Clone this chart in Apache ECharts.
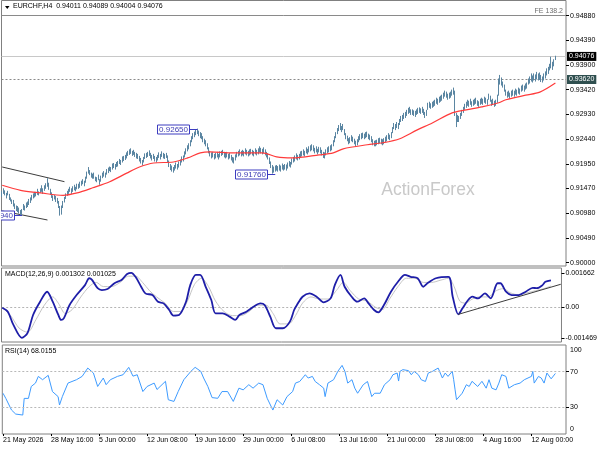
<!DOCTYPE html>
<html><head><meta charset="utf-8">
<script src="https://cdn.jsdelivr.net/npm/echarts@6/dist/echarts.min.js"></script>
<style>html,body{margin:0;padding:0;background:#fff}#c{width:600px;height:450px}</style>
</head><body><div id="c"></div><script>
// ---------- DATA ----------
const symbolTitle = 'EURCHF,H4  0.94011 0.94089 0.94004 0.94076';
const macdTitle = 'MACD(12,26,9) 0.001302 0.001025';
const rsiTitle = 'RSI(14) 68.0155';

const highs = [
0.9141,0.9147,0.9143,0.9138,0.9142,0.9136,0.9129,0.9125,0.9124,0.9117,
0.9113,0.9112,0.9109,0.9104,0.9106,0.9116,0.9113,0.9119,0.9121,0.9126,
0.9129,0.9134,0.9137,0.9140,0.9140,0.9146,0.9141,0.9147,0.9153,0.9147,
0.9153,0.9157,0.9167,0.9158,0.9146,0.9139,0.9133,0.9134,0.9132,0.9128,
0.9122,0.9112,0.9113,0.9122,0.9130,0.9137,0.9142,0.9146,0.9150,0.9147,
0.9151,0.9154,0.9150,0.9156,0.9156,0.9160,0.9162,0.9165,0.9162,0.9170,
0.9180,0.9189,0.9183,0.9178,0.9176,0.9178,0.9170,0.9169,0.9174,0.9165,
0.9172,0.9178,0.9181,0.9178,0.9185,0.9188,0.9190,0.9189,0.9196,0.9197,
0.9195,0.9199,0.9201,0.9205,0.9203,0.9210,0.9211,0.9213,0.9218,0.9221,
0.9224,0.9226,0.9221,0.9223,0.9219,0.9217,0.9215,0.9211,0.9207,0.9203,
0.9209,0.9216,0.9217,0.9219,0.9222,0.9217,0.9213,0.9215,0.9211,0.9209,
0.9213,0.9218,0.9215,0.9220,0.9217,0.9215,0.9217,0.9212,0.9202,0.9195,
0.9192,0.9189,0.9193,0.9198,0.9195,0.9200,0.9204,0.9210,0.9212,0.9220,
0.9226,0.9232,0.9236,0.9242,0.9250,0.9256,0.9259,0.9263,0.9265,0.9261,
0.9258,0.9256,0.9250,0.9245,0.9242,0.9236,0.9228,0.9221,0.9218,0.9219,
0.9215,0.9217,0.9219,0.9215,0.9220,0.9221,0.9223,0.9219,0.9217,0.9219,
0.9215,0.9217,0.9213,0.9209,0.9208,0.9214,0.9219,0.9221,0.9224,0.9221,
0.9223,0.9221,0.9226,0.9223,0.9221,0.9224,0.9225,0.9223,0.9221,0.9226,
0.9223,0.9226,0.9230,0.9227,0.9225,0.9228,0.9224,0.9219,0.9216,0.9208,
0.9200,0.9193,0.9190,0.9192,0.9193,0.9191,0.9194,0.9192,0.9196,0.9193,
0.9195,0.9194,0.9198,0.9201,0.9199,0.9206,0.9209,0.9212,0.9216,0.9213,
0.9215,0.9220,0.9221,0.9224,0.9221,0.9228,0.9225,0.9230,0.9232,0.9234,
0.9232,0.9227,0.9230,0.9225,0.9229,0.9228,0.9223,0.9219,0.9218,0.9224,
0.9228,0.9230,0.9232,0.9234,0.9242,0.9250,0.9258,0.9266,0.9272,0.9276,
0.9270,0.9274,0.9264,0.9256,0.9251,0.9246,0.9248,0.9252,0.9249,0.9245,
0.9241,0.9244,0.9250,0.9254,0.9256,0.9257,0.9255,0.9258,0.9259,0.9255,
0.9253,0.9250,0.9244,0.9241,0.9242,0.9243,0.9246,0.9247,0.9245,0.9244,
0.9246,0.9249,0.9252,0.9256,0.9253,0.9258,0.9268,0.9276,0.9274,0.9278,
0.9276,0.9284,0.9290,0.9292,0.9296,0.9298,0.9302,0.9306,0.9308,0.9303,
0.9303,0.9301,0.9300,0.9303,0.9306,0.9307,0.9305,0.9308,0.9304,0.9298,
0.9302,0.9316,0.9318,0.9315,0.9318,0.9320,0.9322,0.9326,0.9324,0.9328,
0.9330,0.9332,0.9336,0.9340,0.9338,0.9334,0.9336,0.9338,0.9342,0.9346,
0.9340,0.9296,0.9292,0.9290,0.9296,0.9302,0.9308,0.9314,0.9318,0.9322,
0.9320,0.9324,0.9319,0.9322,0.9324,0.9326,0.9321,0.9319,0.9324,0.9326,
0.9324,0.9328,0.9326,0.9323,0.9334,0.9330,0.9322,0.9324,0.9320,0.9322,
0.9332,0.9364,0.9371,0.9366,0.9358,0.9352,0.9342,0.9338,0.9340,0.9336,
0.9340,0.9342,0.9340,0.9344,0.9342,0.9346,0.9344,0.9350,0.9352,0.9350,
0.9354,0.9356,0.9364,0.9368,0.9374,0.9370,0.9374,0.9372,0.9377,0.9374,
0.9376,0.9371,0.9368,0.9374,0.9378,0.9384,0.9387,0.9393,0.9407,0.9397,
0.9402,0.94089];

const lows = [
0.9130,0.9136,0.9133,0.9127,0.9133,0.9124,0.9121,0.9116,0.9111,0.9106,
0.9102,0.9100,0.9097,0.9094,0.9094,0.9104,0.9103,0.9108,0.9110,0.9114,
0.9118,0.9123,0.9127,0.9129,0.9131,0.9134,0.9133,0.9138,0.9140,0.9136,
0.9142,0.9146,0.9150,0.9144,0.9134,0.9128,0.9122,0.9125,0.9120,0.9117,
0.9108,0.9093,0.9095,0.9108,0.9119,0.9126,0.9132,0.9136,0.9140,0.9136,
0.9140,0.9143,0.9141,0.9145,0.9146,0.9148,0.9152,0.9155,0.9151,0.9158,
0.9166,0.9176,0.9173,0.9168,0.9166,0.9166,0.9161,0.9159,0.9163,0.9154,
0.9160,0.9167,0.9170,0.9168,0.9174,0.9177,0.9181,0.9179,0.9184,0.9187,
0.9184,0.9189,0.9190,0.9195,0.9193,0.9198,0.9201,0.9203,0.9206,0.9211,
0.9213,0.9215,0.9211,0.9213,0.9209,0.9206,0.9205,0.9200,0.9196,0.9192,
0.9198,0.9205,0.9207,0.9209,0.9211,0.9206,0.9202,0.9205,0.9200,0.9198,
0.9202,0.9207,0.9204,0.9209,0.9206,0.9205,0.9207,0.9199,0.9189,0.9183,
0.9180,0.9178,0.9182,0.9186,0.9184,0.9188,0.9192,0.9198,0.9200,0.9208,
0.9214,0.9220,0.9224,0.9230,0.9238,0.9244,0.9248,0.9252,0.9254,0.9250,
0.9246,0.9244,0.9238,0.9234,0.9230,0.9224,0.9216,0.9210,0.9206,0.9208,
0.9204,0.9206,0.9208,0.9204,0.9208,0.9211,0.9213,0.9208,0.9206,0.9208,
0.9204,0.9206,0.9202,0.9198,0.9196,0.9202,0.9208,0.9210,0.9212,0.9210,
0.9212,0.9210,0.9214,0.9212,0.9210,0.9212,0.9214,0.9212,0.9210,0.9214,
0.9212,0.9214,0.9218,0.9216,0.9214,0.9216,0.9212,0.9208,0.9204,0.9195,
0.9187,0.9176,0.9178,0.9180,0.9182,0.9180,0.9182,0.9180,0.9184,0.9182,
0.9184,0.9182,0.9186,0.9190,0.9188,0.9194,0.9198,0.9200,0.9204,0.9202,
0.9204,0.9208,0.9210,0.9212,0.9210,0.9216,0.9214,0.9218,0.9220,0.9222,
0.9220,0.9216,0.9218,0.9214,0.9218,0.9216,0.9212,0.9207,0.9206,0.9212,
0.9216,0.9218,0.9220,0.9222,0.9230,0.9238,0.9246,0.9254,0.9260,0.9262,
0.9258,0.9262,0.9252,0.9244,0.9240,0.9234,0.9236,0.9240,0.9238,0.9234,
0.9230,0.9232,0.9238,0.9242,0.9244,0.9246,0.9244,0.9246,0.9248,0.9244,
0.9242,0.9238,0.9232,0.9230,0.9230,0.9232,0.9234,0.9236,0.9234,0.9232,
0.9234,0.9238,0.9240,0.9244,0.9242,0.9246,0.9256,0.9264,0.9262,0.9266,
0.9264,0.9272,0.9278,0.9280,0.9284,0.9286,0.9290,0.9294,0.9296,0.9292,
0.9292,0.9290,0.9288,0.9292,0.9294,0.9296,0.9294,0.9296,0.9292,0.9286,
0.9290,0.9302,0.9306,0.9304,0.9306,0.9308,0.9310,0.9314,0.9312,0.9316,
0.9318,0.9320,0.9324,0.9328,0.9326,0.9322,0.9324,0.9326,0.9330,0.9332,
0.9290,0.9268,0.9278,0.9278,0.9284,0.9290,0.9296,0.9302,0.9306,0.9310,
0.9308,0.9312,0.9308,0.9310,0.9312,0.9314,0.9310,0.9308,0.9312,0.9314,
0.9312,0.9316,0.9314,0.9312,0.9322,0.9318,0.9310,0.9312,0.9308,0.9310,
0.9316,0.9330,0.9352,0.9350,0.9346,0.9338,0.9330,0.9326,0.9328,0.9324,
0.9328,0.9330,0.9328,0.9332,0.9330,0.9334,0.9332,0.9338,0.9340,0.9338,
0.9342,0.9344,0.9352,0.9354,0.9358,0.9356,0.9360,0.9358,0.9362,0.9360,
0.9361,0.9357,0.9356,0.9360,0.9364,0.9370,0.9373,0.9380,0.9384,0.9381,
0.9388,0.94004];

// moving average (red) : [bar index, price]
const maPoints = [[0,0.9153],[13,0.9143],[27,0.9138],[43,0.9133],[53,0.9138],[64,0.9148],[76,0.9160],[88,0.9177],[97,0.9189],[107,0.9197],[121,0.9199],[131,0.9207],[140,0.9217],[147,0.9219],[163,0.9217],[184,0.9217],[194,0.9209],[205,0.9207],[224,0.9213],[234,0.9217],[241,0.9225],[258,0.9233],[269,0.9237],[281,0.9245],[293,0.9262],[304,0.9276],[318,0.9296],[328,0.9302],[339,0.9308],[351,0.9316],[356,0.9322],[370,0.9331],[380,0.9337],[391,0.9355]];

// MACD main line and signal line : [bar index, value]
const macdPoints = [[0,-0.00002],[4,-0.00021],[8,-0.00085],[14,-0.00147],[18,-0.00124],[22,-0.00037],[27,0.00027],[32,0.00075],[36,0.00027],[40,-0.00037],[42,-0.00061],[44,-0.00052],[48,0.00011],[53,0.00059],[59,0.00107],[62,0.0014],[64,0.00132],[68,0.00092],[71,0.00083],[75,0.00088],[80,0.00116],[85,0.00132],[89,0.00160],[92,0.001662],[95,0.00147],[99,0.00099],[102,0.00067],[107,0.00059],[111,0.00027],[115,0.00019],[119,-0.00013],[122,-0.0004],[126,-0.00037],[131,0.00027],[134,0.00107],[138,0.00156],[141,0.00156],[145,0.00099],[149,0.00035],[152,-0.00029],[157,-0.00029],[162,-0.00045],[166,-0.00061],[169,-0.00037],[174,-0.00021],[179,0.00003],[184,0.00019],[187,0.00011],[191,-0.00045],[195,-0.00101],[200,-0.00101],[205,-0.00069],[208,-0.00013],[210,0.00011],[214,0.00051],[219,0.00067],[224,0.00051],[229,0.00024],[234,0.00043],[237,0.00107],[241,0.00156],[244,0.00099],[249,0.00051],[253,0.00027],[258,0.00043],[261,0.00019],[265,-0.00013],[268,-0.00024],[272,0.00011],[277,0.00075],[282,0.00123],[287,0.00156],[291,0.00147],[296,0.0014],[300,0.00099],[303,0.00116],[309,0.0014],[318,0.00147],[321,0.00051],[325,-0.00034],[328,-0.00005],[332,0.00035],[335,0.00051],[339,0.00043],[344,0.00067],[348,0.00043],[353,0.00116],[355,0.00116],[359,0.00075],[363,0.00059],[368,0.00059],[373,0.00075],[378,0.00094],[381,0.00092],[385,0.00107],[387,0.00123],[391,0.001302]];
const signalPoints = [[0,0.0000],[6,-0.0004],[12,-0.0010],[18,-0.0012],[24,-0.0006],[30,0.0001],[36,0.0005],[40,0.0002],[45,-0.0003],[50,-0.0001],[56,0.0005],[62,0.0010],[67,0.0012],[72,0.0010],[78,0.0010],[84,0.0012],[90,0.0015],[95,0.0015],[100,0.0012],[105,0.0008],[110,0.0005],[116,0.0002],[122,-0.0002],[127,-0.0002],[132,0.0003],[137,0.0011],[142,0.0014],[147,0.0010],[152,0.0003],[158,-0.0002],[164,-0.0004],[170,-0.0004],[176,-0.0002],[182,0.0001],[188,0.0001],[193,-0.0003],[198,-0.0008],[204,-0.0008],[209,-0.0004],[214,0.0002],[220,0.0005],[226,0.0004],[232,0.0004],[238,0.0008],[243,0.0012],[248,0.0008],[254,0.0004],[260,0.0003],[266,0.0000],[271,-0.0001],[276,0.0004],[282,0.0010],[288,0.0014],[294,0.0014],[300,0.0012],[306,0.0012],[312,0.0013],[318,0.0014],[322,0.0010],[326,0.0003],[330,0.0002],[335,0.0004],[340,0.0005],[346,0.0005],[352,0.0008],[357,0.0009],[362,0.0007],[368,0.0006],[374,0.0007],[380,0.0008],[386,0.0009],[391,0.001025]];

// RSI(14) : [bar index, value]
const rsiPoints = [[0,45.8],[2,40],[6,27],[9,22.4],[14,21.3],[15,40],[18,40],[20,53.4],[23,57.2],[25,64.7],[28,61],[32,65.9],[35,47.7],[39,42],[40,32.6],[42,42],[46,57.2],[52,61],[56,64.7],[60,74.1],[64,68.5],[67,53.4],[71,62.9],[73,55.4],[76,61],[81,64.7],[85,66.6],[89,74.9],[92,65],[95,66.6],[99,47.7],[102,53.4],[107,57.2],[109,50],[115,59.2],[117,38.5],[121,36.6],[124,47.7],[128,61],[133,70.4],[136,74.9],[140,70.4],[142,62.9],[145,53.4],[148,40.9],[152,40.1],[155,47.7],[159,47.7],[163,36.6],[167,51.5],[170,49.6],[174,55.4],[177,51.5],[181,57.2],[184,55.4],[187,40.1],[191,26.9],[194,38.5],[198,32.6],[201,42],[205,47.7],[207,57.2],[210,59],[214,66.6],[216,62.9],[219,64.7],[221,59],[224,55.4],[227,51.5],[228,42],[230,57.2],[234,61],[237,70.4],[240,77.1],[242,70.4],[244,57.2],[247,61],[249,51.5],[251,45.8],[255,55.4],[258,59],[261,42],[263,45.8],[267,45.8],[270,55.4],[274,61],[276,66.6],[279,68.5],[280,59.5],[281,70.4],[283,72.3],[287,71.2],[289,66.6],[291,70.4],[294,66.6],[296,61],[299,59],[301,68.5],[304,70.4],[308,74.1],[311,62.9],[313,68.5],[315,64.7],[318,70.4],[319,61],[320,49.6],[321,38.5],[322,40],[325,45.8],[328,55.4],[330,53.4],[332,59.2],[336,53.4],[339,59.2],[342,51.5],[344,61],[346,51.5],[349,49.6],[351,57.2],[353,66.6],[356,64.7],[358,51.5],[362,55.4],[366,57.2],[369,61],[374,64.7],[375,70.4],[376,57.2],[379,64.7],[381,62.9],[383,57.2],[385,68.5],[388,62],[391,68.0155]];

// horizontal levels, trend lines, labels
const fePrice = 0.94880, feText = 'FE 138.2';
const bidPrice = 0.94076, bidText = '0.94076';
const levelPrice = 0.93620, levelText = '0.93620';
const channelUpper = [[0, 0.91891], [44, 0.91601]];
const channelLower = [[0, 0.91022], [32, 0.90844]];
const macdTrend = [[325, -0.00034], [398, 0.00111]];
const macdZero = [[0, 0], [398, 0]];
const annotIdx = [14, 138, 193];
const annotPrice = [0.90940, 0.92650, 0.91760];
const annotText = ['0.90940', '0.92650', '0.91760'];
const watermark = 'ActionForex';

// tick labels
const xTickLabels = ['21 May 2026','28 May 16:00','5 Jun 00:00','12 Jun 08:00','19 Jun 16:00','29 Jun 00:00','6 Jul 08:00','13 Jul 16:00','21 Jul 00:00','28 Jul 08:00','4 Aug 16:00','12 Aug 00:00'];
const labelStep = 34;
const priceTickLabels = ['0.90000','0.90490','0.90980','0.91470','0.91950','0.92440','0.92930','0.93420','0.93900','0.94390','0.94880'];
const macdTickValues = [0.001662, 0, -0.001469];
const rsiTickValues = [100, 70, 30, 0];
const rsiLabelPos = [94.5, 70, 30, 5.5];   // MT4 draws the 100 / 0 labels just inside the panel
const rsiLevels = [70, 30];

// ---------- CHART ----------
const FONT = '"Liberation Sans", Arial, sans-serif';
const N_CAT = 399;
const cats = Array.from({length: N_CAT}, (_, i) => String(i));
const bars = highs.map((h, i) => [lows[i], h, lows[i], h]);
const priceTickValues = priceTickLabels.map(Number);
const isLabelIdx = i => i % labelStep === 0 && i / labelStep < xTickLabels.length;
const BAR = '#5b86a2';
const gridL = 1.5, gridW = 564.5;

const chart = echarts.init(document.getElementById('c'), null, {renderer: 'canvas', width: 600, height: 450});

const axisText = {fontSize: 7, color: '#000', fontFamily: FONT};
const hLine = (y, color, type, label) => ({yAxis: y, lineStyle: {color: color, width: 1, type: type}, label: label || {show: false}});
const seg = (pts, color, type) => [{coord: pts[0], lineStyle: {color: color, width: 1, type: type}, label: {show: false}}, {coord: pts[1]}];
const option = {
  animation: false,
  backgroundColor: '#fff',
  textStyle: {fontFamily: FONT},
  title: [
    {text: symbolTitle, left: 13, top: 3, textStyle: {fontSize: 7, fontWeight: 'normal', color: '#000', fontFamily: FONT}, padding: 0},
    {text: macdTitle, left: 5, top: 271, textStyle: {fontSize: 7, fontWeight: 'normal', color: '#000', fontFamily: FONT}, padding: 0},
    {text: rsiTitle, left: 5, top: 348, textStyle: {fontSize: 7, fontWeight: 'normal', color: '#000', fontFamily: FONT}, padding: 0}
  ],
  grid: [
    {left: gridL, width: gridW, top: 0.5, height: 265.5, show: true, borderColor: '#808080', borderWidth: 1},
    {left: gridL, width: gridW, top: 268, height: 74, show: true, borderColor: '#808080', borderWidth: 1},
    {left: gridL, width: gridW, top: 345, height: 89, show: true, borderColor: '#808080', borderWidth: 1}
  ],
  xAxis: [0, 1, 2].map(k => ({
    type: 'category', gridIndex: k, data: cats, boundaryGap: true,
    axisLine: {show: false},
    axisTick: {show: k === 2, alignWithLabel: true, interval: isLabelIdx, length: 2, lineStyle: {color: '#000'}},
    axisLabel: {show: k === 2, interval: isLabelIdx, formatter: (v, i) => xTickLabels[Math.round(i / labelStep)],
      align: 'left', margin: 3, ...axisText},
    splitLine: {show: false}
  })),
  yAxis: [
    {type: 'value', gridIndex: 0, position: 'right', min: 0.899348, max: 0.951808,
     splitLine: {show: false}, axisLine: {show: false},
     axisTick: {show: true, customValues: priceTickValues, length: 3, lineStyle: {color: '#000'}},
     axisLabel: {customValues: priceTickValues, formatter: v => v.toFixed(5), margin: 4, ...axisText}},
    {type: 'value', gridIndex: 1, position: 'right', min: -0.001672, max: 0.001894,
     splitLine: {show: false}, axisLine: {show: false},
     axisTick: {show: true, customValues: macdTickValues, length: 3, lineStyle: {color: '#000'}},
     axisLabel: {customValues: macdTickValues, formatter: v => (Math.abs(v) < 1e-9 ? '0.00' : v.toFixed(6)), margin: 4, ...axisText}},
    {type: 'value', gridIndex: 2, position: 'right', min: 0, max: 100,
     splitLine: {show: false}, axisLine: {show: false},
     axisTick: {show: true, customValues: rsiLevels, length: 3, lineStyle: {color: '#000'}},
     axisLabel: {customValues: rsiLabelPos, showMinLabel: true, showMaxLabel: true,
       formatter: v => String(rsiTickValues[rsiLabelPos.indexOf(v)]), margin: 4, ...axisText}}
  ],
  series: [
    {type: 'candlestick', name: 'EURCHF', xAxisIndex: 0, yAxisIndex: 0, data: bars, barWidth: 1, clip: false,
     itemStyle: {color: BAR, color0: BAR, borderColor: BAR, borderColor0: BAR, borderWidth: 1}},
    {type: 'line', name: 'MA', xAxisIndex: 0, yAxisIndex: 0, data: maPoints, showSymbol: false, smooth: 0.3,
     lineStyle: {color: '#ff3b3b', width: 1.2}, silent: true, z: 3,
     markLine: {silent: true, symbol: ['none', 'none'], animation: false, precision: 6, z: 1, data: [
       hLine(fePrice, '#8a8a8a', 'solid', {show: true, position: 'insideEndTop', formatter: feText, color: '#6e6e6e', fontSize: 7, distance: [3, 1], fontFamily: FONT}),
       hLine(bidPrice, '#c8c8c8', 'solid', {show: true, position: 'end', formatter: bidText, color: '#fff', backgroundColor: '#000', padding: [1, 2, 1, 2], fontSize: 7, distance: 1, fontFamily: FONT}),
       hLine(levelPrice, '#8a8a8a', [2, 2], {show: true, position: 'end', formatter: levelText, color: '#fff', backgroundColor: '#2f4f4f', padding: [1, 2, 1, 2], fontSize: 7, distance: 1, fontFamily: FONT}),
       seg(channelUpper, '#3c3c3c', 'solid'),
       seg(channelLower, '#3c3c3c', 'solid')
     ]}},
    {type: 'line', name: 'Signal', xAxisIndex: 1, yAxisIndex: 1, data: signalPoints, showSymbol: false, smooth: 0.3,
     lineStyle: {color: '#c4c4c4', width: 1}, silent: true, z: 2,
     markLine: {silent: true, symbol: ['none', 'none'], label: {show: false}, precision: 8, z: 1,
       data: [seg(macdZero, '#b4b4b4', [2, 2])]}},
    {type: 'line', name: 'MACD', xAxisIndex: 1, yAxisIndex: 1, data: macdPoints, showSymbol: false, smooth: 0.3,
     lineStyle: {color: '#1e1ea8', width: 1.8}, silent: true, z: 3,
     markLine: {silent: true, symbol: ['none', 'none'], label: {show: false}, precision: 8,
       data: [seg(macdTrend, '#3c3c3c', 'solid')]}},
    {type: 'line', name: 'RSI', xAxisIndex: 2, yAxisIndex: 2, data: rsiPoints, showSymbol: false,
     lineStyle: {color: '#3d9bff', width: 1}, silent: true,
     markLine: {silent: true, symbol: ['none', 'none'], label: {show: false},
       data: rsiLevels.map(l => hLine(l, '#b8b8b8', [2, 2]))}}
  ]
};
chart.setOption(option);

// annotation boxes, placed through the chart's own scales
const graphics = [
  {type: 'polygon', shape: {points: [[5, 6], [9.5, 6], [7.25, 9]]}, style: {fill: '#000'}},
  {type: 'text', x: 428, y: 190, style: {text: watermark, fill: '#c9c9c9', font: '17.5px ' + FONT, textAlign: 'center', textVerticalAlign: 'middle'}, z: 1}
];
annotIdx.forEach((idx, k) => {
  const p = chart.convertToPixel({xAxisIndex: 0, yAxisIndex: 0}, [idx, annotPrice[k]]);
  const px = p[0], py = Math.round(p[1]) + 0.5;
  const right = Math.round(px) - 7.5, w = 32, h = 9;
  graphics.push({type: 'line', shape: {x1: right, y1: py, x2: px, y2: py}, style: {stroke: '#3c3cc0', lineWidth: 1}, z: 10});
  graphics.push({type: 'rect', shape: {x: right - w, y: py - h / 2, width: w, height: h}, style: {fill: '#fff', stroke: '#3c3cc0', lineWidth: 1}, z: 10});
  graphics.push({type: 'text', x: right - 1.5, y: py + 0.5, style: {text: annotText[k], fill: '#3c3cb4', font: '8px ' + FONT, textAlign: 'right', textVerticalAlign: 'middle'}, z: 11});
});
graphics.push({type: 'rect', shape: {x: -40, y: 0, width: 41, height: 266}, style: {fill: '#fff'}, z: 20});
chart.setOption({graphic: graphics});
</script></body></html>
